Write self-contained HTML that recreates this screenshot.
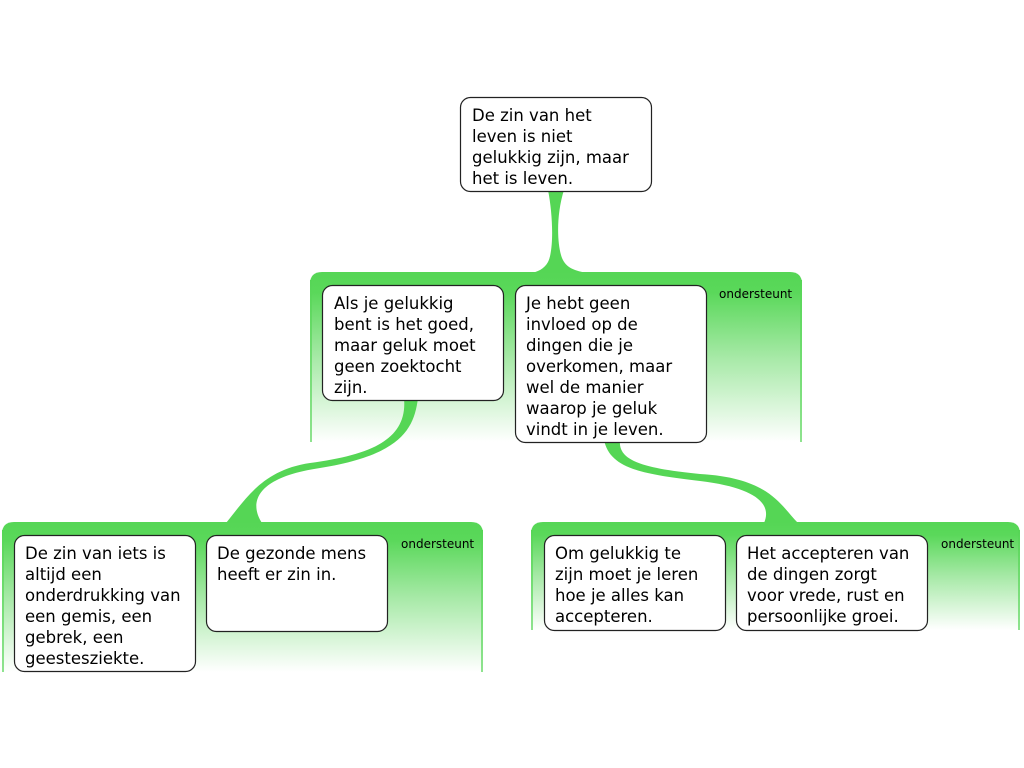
<!DOCTYPE html>
<html><head><meta charset="utf-8"><style>
html,body{margin:0;padding:0;background:#fff;width:1024px;height:768px;overflow:hidden}
svg text{font-family:"DejaVu Sans","Liberation Sans",sans-serif;fill:#000}
.t{font-size:16.5px}.s{font-size:12px}
.box{fill:#fff;stroke:#222;stroke-width:1.2}
</style></head><body>
<svg width="1024" height="768" viewBox="0 0 1024 768" xmlns="http://www.w3.org/2000/svg">
<defs>
<linearGradient id="g" x1="0" y1="0" x2="0" y2="1">
<stop offset="0" stop-color="#55d655"/><stop offset="0.12" stop-color="#5ad85a"/><stop offset="0.5" stop-color="#a6e9a6"/><stop offset="1" stop-color="#ffffff"/>
</linearGradient>
<linearGradient id="gs" x1="0" y1="0" x2="0" y2="1">
<stop offset="0" stop-color="#55d655"/><stop offset="1" stop-color="#8fe38f"/>
</linearGradient>
</defs>
<path d="M310,442 V284 Q310,272 322,272 H790 Q802,272 802,284 V442 Z" fill="url(#g)"/>
<rect x="310" y="280" width="2" height="162" fill="url(#gs)"/><rect x="800" y="280" width="2" height="162" fill="url(#gs)"/>
<path d="M2,672 V534 Q2,522 14,522 H471 Q483,522 483,534 V672 Z" fill="url(#g)"/>
<rect x="2" y="530" width="2" height="142" fill="url(#gs)"/><rect x="481" y="530" width="2" height="142" fill="url(#gs)"/>
<path d="M531,630 V534 Q531,522 543,522 H1008 Q1020,522 1020,534 V630 Z" fill="url(#g)"/>
<rect x="531" y="530" width="2" height="100" fill="url(#gs)"/><rect x="1018" y="530" width="2" height="100" fill="url(#gs)"/>
<path d="M548,190 C553,215 554,250 548,262 C544,269 538,272 530,273 L588,273 C575,271 566,268 562,258 C557,245 556,215 564,190 Z" fill="#55d655"/>
<path d="M404,398 C408,440 370,455 310,463 C262,470 245,500 226,523 L262,523 C250,505 252,478 320,468 C400,455 414,430 418,398 Z" fill="#55d655"/>
<path d="M604,440 C610,468 640,474 700,481 C758,488 772,505 764,523 L798,523 C780,505 770,478 700,474 C640,468 618,460 620,440 Z" fill="#55d655"/>
<rect class="box" x="460.5" y="97.5" width="191" height="94" rx="10"/>
<text class="t" x="472" y="121">De zin van het</text>
<text class="t" x="472" y="142">leven is niet</text>
<text class="t" x="472" y="163">gelukkig zijn, maar</text>
<text class="t" x="472" y="184">het is leven.</text>
<rect class="box" x="322.5" y="285.5" width="181" height="115" rx="10"/>
<text class="t" x="334" y="309">Als je gelukkig</text>
<text class="t" x="334" y="330">bent is het goed,</text>
<text class="t" x="334" y="351">maar geluk moet</text>
<text class="t" x="334" y="372">geen zoektocht</text>
<text class="t" x="334" y="393">zijn.</text>
<rect class="box" x="515.5" y="285.5" width="191" height="157" rx="10"/>
<text class="t" x="526" y="309">Je hebt geen</text>
<text class="t" x="526" y="330">invloed op de</text>
<text class="t" x="526" y="351">dingen die je</text>
<text class="t" x="526" y="372">overkomen, maar</text>
<text class="t" x="526" y="393">wel de manier</text>
<text class="t" x="526" y="414">waarop je geluk</text>
<text class="t" x="526" y="435">vindt in je leven.</text>
<text class="s" x="719" y="298">ondersteunt</text>
<rect class="box" x="14.5" y="535.5" width="181" height="136" rx="10"/>
<text class="t" x="25" y="559">De zin van iets is</text>
<text class="t" x="25" y="580">altijd een</text>
<text class="t" x="25" y="601">onderdrukking van</text>
<text class="t" x="25" y="622">een gemis, een</text>
<text class="t" x="25" y="643">gebrek, een</text>
<text class="t" x="25" y="664">geestesziekte.</text>
<rect class="box" x="206.5" y="535.5" width="181" height="96" rx="10"/>
<text class="t" x="217" y="559">De gezonde mens</text>
<text class="t" x="217" y="580">heeft er zin in.</text>
<text class="s" x="401" y="548">ondersteunt</text>
<rect class="box" x="544.5" y="535.5" width="181" height="95" rx="10"/>
<text class="t" x="555" y="559">Om gelukkig te</text>
<text class="t" x="555" y="580">zijn moet je leren</text>
<text class="t" x="555" y="601">hoe je alles kan</text>
<text class="t" x="555" y="622">accepteren.</text>
<rect class="box" x="736.5" y="535.5" width="191" height="95" rx="10"/>
<text class="t" x="747" y="559">Het accepteren van</text>
<text class="t" x="747" y="580">de dingen zorgt</text>
<text class="t" x="747" y="601">voor vrede, rust en</text>
<text class="t" x="747" y="622">persoonlijke groei.</text>
<text class="s" x="941" y="548">ondersteunt</text>
</svg>
</body></html>
